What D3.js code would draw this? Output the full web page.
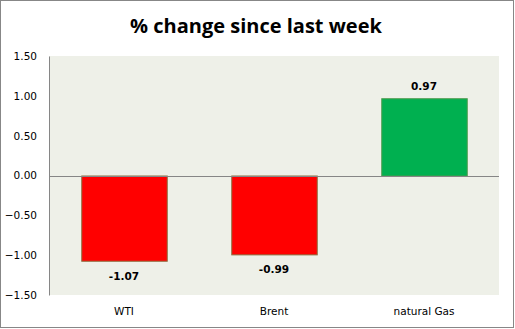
<!DOCTYPE html>
<html>
<head>
<meta charset="utf-8">
<script src="https://cdn.jsdelivr.net/npm/d3@7"></script>
<style>
  html, body { margin: 0; padding: 0; background: #fff; }
  svg { display: block; }
</style>
</head>
<body>
<svg id="chart" width="515" height="329"></svg>
<script>
// Weekly percentage change by commodity
const categories = ["WTI", "Brent", "natural Gas"];
const changes = [-1.07, -0.99, 0.97];
const barColors = ["#FF0000", "#FF0000", "#00B050"];
const barStrokes = ["#8C6D3F", "#8C6D3F", "#4E9A4E"];
const yTicks = [1.5, 1.0, 0.5, 0.0, -0.5, -1.0, -1.5];

const svg = d3.select("#chart");
const W = 515, H = 329;
const plot = { left: 49, right: 499, top: 56, bottom: 295 };

// outer frame
svg.append("rect")
  .attr("x", 0.5).attr("y", 0.5)
  .attr("width", W - 2).attr("height", H - 2)
  .attr("fill", "#fff").attr("stroke", "#878787");

// title
svg.append("text")
  .attr("x", 256).attr("y", 33)
  .attr("text-anchor", "middle")
  .attr("font-family", "'Open Sans', sans-serif")
  .attr("font-weight", "bold")
  .attr("font-size", 20)
  .attr("fill", "#000")
  .text("% change since last week");

const x = d3.scaleBand()
  .domain(categories)
  .range([plot.left, plot.right])
  .paddingInner(0.43).paddingOuter(0.215);

const y = d3.scaleLinear()
  .domain([-1.5, 1.5])
  .range([plot.bottom, plot.top]);

// plot background
svg.append("rect")
  .attr("x", plot.left).attr("y", plot.top)
  .attr("width", plot.right - plot.left).attr("height", plot.bottom - plot.top)
  .attr("fill", "#EEF0E8");

// y axis
const yAxis = d3.axisLeft(y)
  .tickValues(yTicks)
  .tickFormat(d3.format(".2f"))
  .tickSize(0)
  .tickPadding(12);

const gy = svg.append("g")
  .attr("transform", `translate(${plot.left},0)`)
  .call(yAxis);
gy.select(".domain").attr("stroke", "#868686");
gy.selectAll("text")
  .attr("font-family", "Tahoma, 'DejaVu Sans', sans-serif")
  .attr("font-size", 10.5)
  .attr("fill", "#000");

// bars
svg.selectAll("rect.bar")
  .data(changes)
  .join("rect")
  .attr("class", "bar")
  .attr("x", (d, i) => x(categories[i]) + 0.5)
  .attr("y", d => Math.min(y(d), y(0)) + 0.5)
  .attr("width", x.bandwidth())
  .attr("height", d => Math.abs(y(d) - y(0)))
  .attr("fill", (d, i) => barColors[i])
  .attr("stroke", (d, i) => barStrokes[i])
  .attr("stroke-width", 1);

// zero line
svg.append("line")
  .attr("x1", plot.left).attr("x2", plot.right)
  .attr("y1", Math.round(y(0)) + 0.5).attr("y2", Math.round(y(0)) + 0.5)
  .attr("stroke", "#868686");

// value labels
svg.selectAll("text.value")
  .data(changes)
  .join("text")
  .attr("class", "value")
  .attr("x", (d, i) => x(categories[i]) + x.bandwidth() / 2)
  .attr("y", d => d < 0 ? y(d) + 19 : y(d) - 8)
  .attr("text-anchor", "middle")
  .attr("font-family", "Tahoma, 'DejaVu Sans', sans-serif")
  .attr("font-weight", "bold")
  .attr("font-size", 10.5)
  .attr("fill", "#000");

svg.selectAll("text.value").text(d => d.toFixed(2));

// category labels
const xAxis = d3.axisBottom(x).tickSize(0).tickPadding(13);
const gx = svg.append("g")
  .attr("transform", `translate(0,${plot.bottom})`)
  .call(xAxis);
gx.select(".domain").remove();
gx.selectAll("text")
  .attr("font-family", "Tahoma, 'DejaVu Sans', sans-serif")
  .attr("font-size", 10.5)
  .attr("fill", "#000");
</script>
</body>
</html>
